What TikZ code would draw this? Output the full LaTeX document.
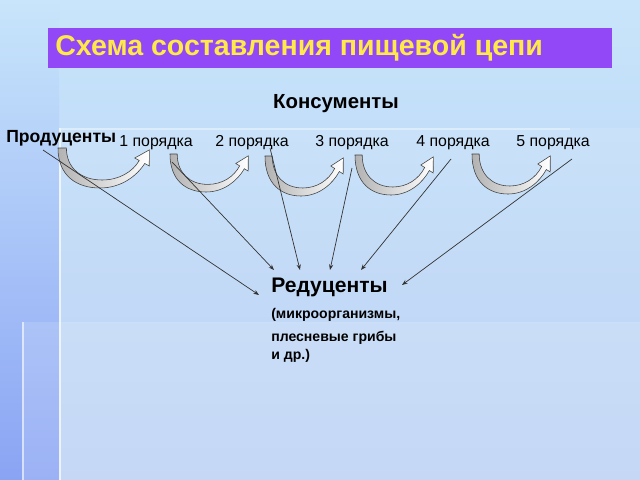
\documentclass[tikz,border=0pt]{standalone}
\usepackage{fontspec}
\setmainfont{Liberation Sans}
\usetikzlibrary{arrows.meta}
\definecolor{bgtop}{RGB}{200,229,251}
\definecolor{bgbot}{RGB}{178,203,243}
\definecolor{stripbot}{RGB}{138,164,244}
\definecolor{titlebg}{RGB}{146,72,246}
\definecolor{titlefg}{RGB}{255,232,74}
\tikzset{label/.style={inner sep=0pt,anchor=center}}

\begin{document}
\begin{tikzpicture}[x=0.025cm,y=-0.025cm]
  \tikzset{order/.style={label,font=\fontsize{11.3}{13}\selectfont}}
  \tikzset{conn/.style={-{Stealth[length=4pt,width=3pt]},line width=0.5pt,black!80}}
  \tikzset{curvarrow/.pic={
    \path[left color=gray!60,right color=white,draw=gray!50!black,line width=0.4pt]
      (0,0) .. controls (0,28) and (18,40) .. (40,40)
      .. controls (60,40) and (75,28) .. (82.6,15.5)
      -- (86.9,18) -- (87,1.9) -- (73.1,10) -- (77.4,12.5)
      .. controls (71,24) and (58,32) .. (42,32)
      .. controls (22,32) and (8,20) .. (8,0) -- cycle;
  }}

  % slide background
  \useasboundingbox (0,0) rectangle (640,480);
  \shade[top color=bgtop,bottom color=bgbot] (0,0) rectangle (640,480);
  \shade[top color=bgtop,bottom color=stripbot] (0,0) rectangle (59,480);
  \fill[white,opacity=0.12] (59,128) rectangle (640,480);
  \fill[white,opacity=0.15] (22,322) rectangle (640,480);
  \draw[white,opacity=0.7,line width=1.2pt] (60,128) -- (60,480);
  \draw[white,opacity=0.6,line width=1.2pt] (23,322) -- (23,480);
  \draw[white,opacity=0.35,line width=1pt] (61,129) -- (570,129);

  % title
  \fill[titlebg] (48,28) rectangle (612,68);
  \node[label,anchor=west,text=titlefg,font=\fontsize{20.3}{24}\selectfont\bfseries] (title) at (55,48) {Схема составления пищевой цепи};

  \node[label,font=\fontsize{14.5}{17}\selectfont\bfseries] (kons) at (336,104) {Консументы};
  \node[label,anchor=west,font=\fontsize{12.5}{15}\selectfont\bfseries] (prod) at (6,138) {Продуценты};
  \node[order] (p1) at (156,143) {1 порядка};
  \node[order] (p2) at (252,143) {2 порядка};
  \node[order] (p3) at (352,143) {3 порядка};
  \node[order] (p4) at (453,143) {4 порядка};
  \node[order] (p5) at (553,143) {5 порядка};

  \node[label,anchor=west,font=\fontsize{15}{18}\selectfont\bfseries] (red) at (271,287) {Редуценты};
  \node[label,anchor=west,font=\fontsize{10}{12}\selectfont\bfseries] (mic) at (271,315) {(микроорганизмы,};
  \node[label,anchor=west,font=\fontsize{10}{12}\selectfont\bfseries] (ples) at (271,338) {плесневые грибы};
  \node[label,anchor=west,font=\fontsize{10}{12}\selectfont\bfseries] (idr) at (271,356) {и др.)};

  % curved arrows between orders
  \pic[xscale=1.05] at (58,148) {curvarrow};
  \pic[xscale=0.9,yscale=0.95] at (170,154) {curvarrow};
  \pic[xscale=0.9] at (265,156) {curvarrow};
  \pic[xscale=0.9] at (355,155) {curvarrow};
  \pic[xscale=0.9] at (472,154) {curvarrow};

  % connectors to decomposers
  \coordinate (s1) at (43,150);
  \coordinate (s2) at (172,162);
  \coordinate (s3) at (270,148);
  \coordinate (s4) at (352,168);
  \coordinate (s5) at (451,159);
  \coordinate (s6) at (572,159);
  \coordinate (e1) at (259,295);
  \coordinate (e2) at (274,270);
  \coordinate (e3) at (300,270);
  \coordinate (e4) at (330,270);
  \coordinate (e5) at (361,270);
  \coordinate (e6) at (402,285);
  \foreach \i in {1,...,6}
    \draw[conn] (s\i) -- (e\i);
\end{tikzpicture}
\end{document}
